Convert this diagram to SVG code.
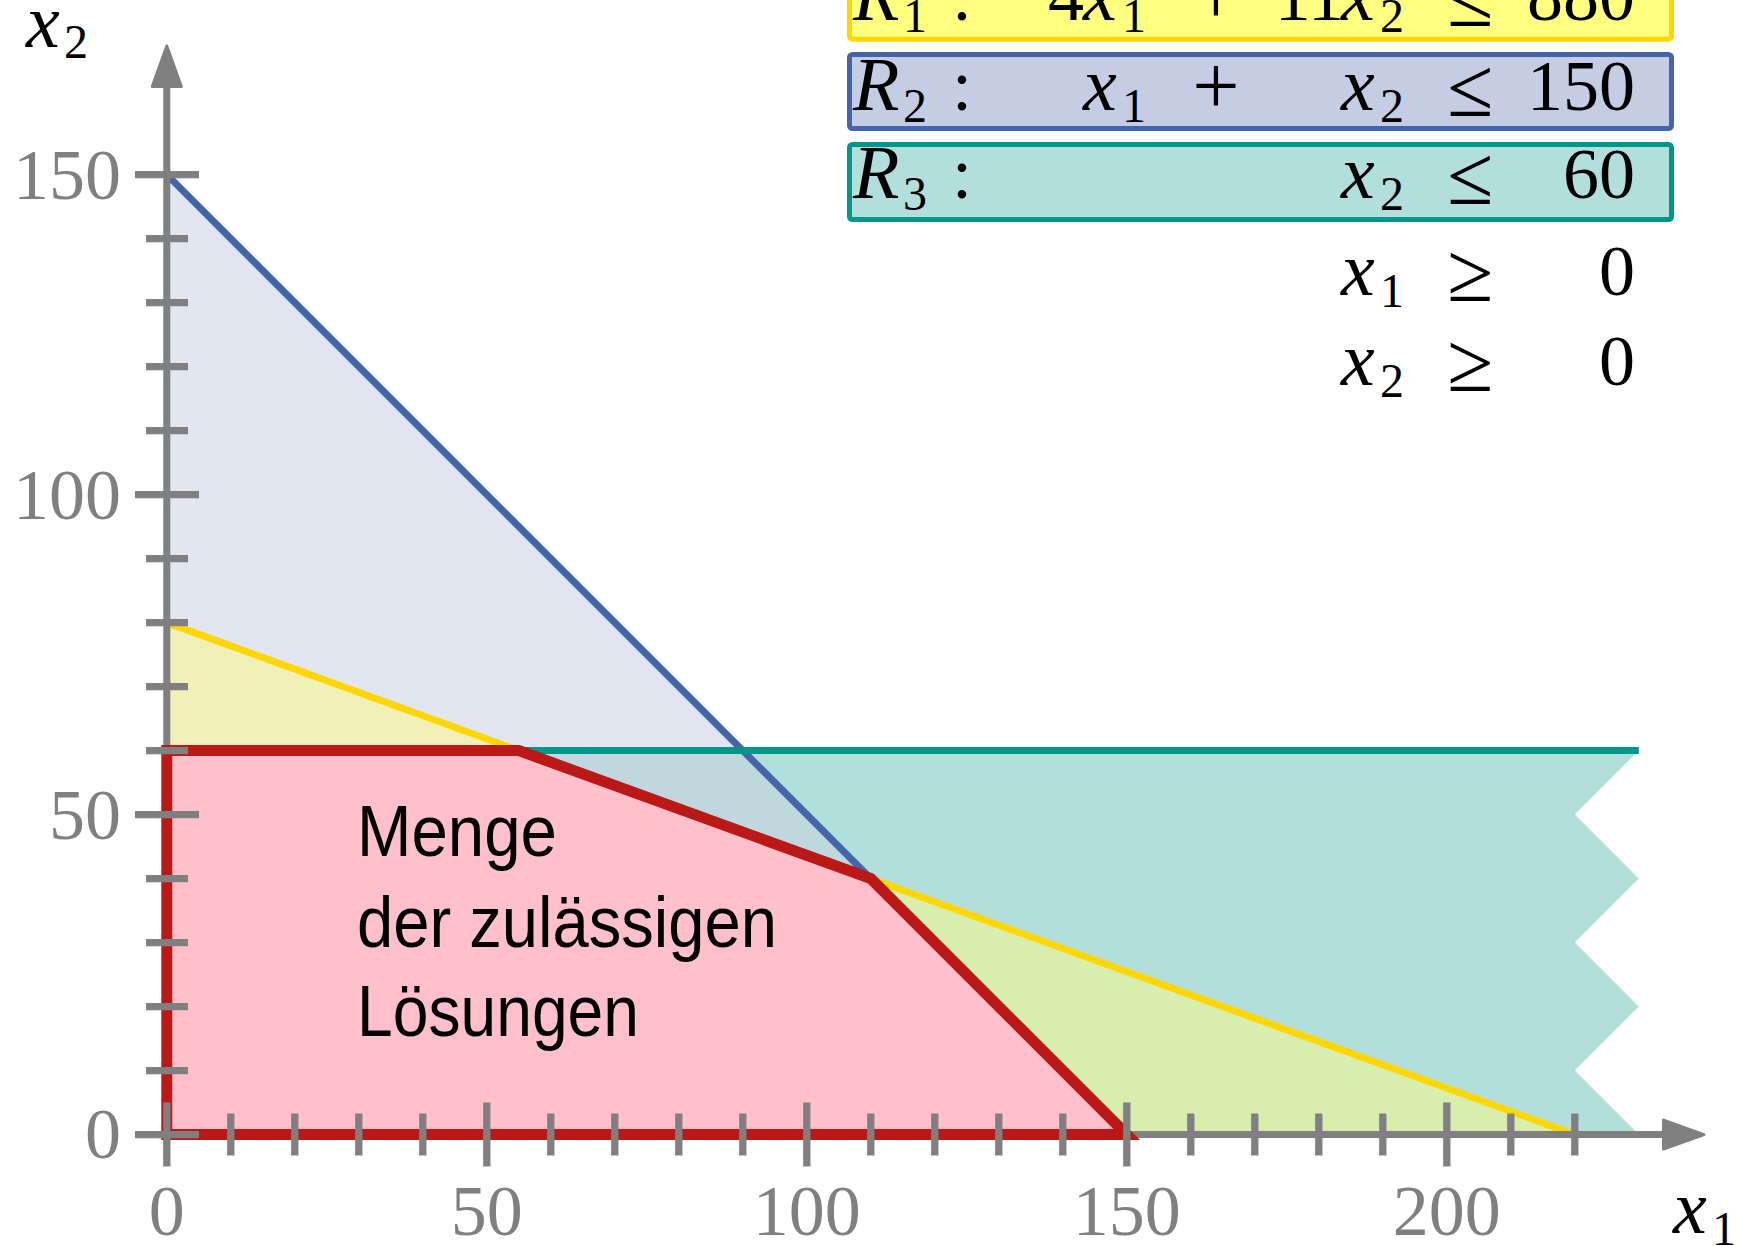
<svg xmlns="http://www.w3.org/2000/svg" width="1744" height="1246" viewBox="0 0 1744 1246">
<style>
.m{font-family:"Liberation Serif","Times New Roman",serif;font-size:72px;fill:#000}
.i{font-style:italic;font-size:76px}
.s{font-size:48px}
.r{font-size:84px}
.g{fill:#808080}
.ax{stroke:#808080;stroke-width:7;fill:none}
.tk{stroke:#808080;stroke-width:7.3;fill:none}
.ah{fill:#808080;stroke:#808080;stroke-width:3;stroke-linejoin:round}
.sans{font-family:"Liberation Sans",Arial,sans-serif;font-size:73px;fill:#000}
</style>
<rect width="1744" height="1246" fill="#fff"/>
<g id="regions">
<path d="M166.8 1134.6 L166.8 174.6 L1126.8 1134.6 Z" fill="#e1e6f1"/>
<path d="M166.8 1134.6 L166.8 622.6 L1574.8 1134.6 Z" fill="#f0f0b8"/>
<path d="M166.8 1134.6 V750.6 H1638.8 L1574.8 814.6 L1638.8 878.6 L1574.8 942.6 L1638.8 1006.6 L1574.8 1070.6 L1638.8 1134.6 Z" fill="#b2dfdb"/>
<path d="M518.8 750.6 L742.8 750.6 L870.8 878.6 Z" fill="#bed8de"/>
<path d="M870.8 878.6 L1126.8 1134.6 L1574.8 1134.6 Z" fill="#d8eeae"/>
<path id="feasible" d="M166.8 1134.6 V750.6 H518.8 L870.8 878.6 L1126.8 1134.6 Z" fill="#ffc0cb"/>
</g>
<g id="constraint-lines" fill="none">
<path d="M166.8 174.6 L1126.8 1134.6" stroke="#4664aa" stroke-width="7"/>
<path d="M166.8 622.6 L1574.8 1134.6" stroke="#ffd700" stroke-width="7"/>
<path d="M166.8 750.6 H1638.8" stroke="#009688" stroke-width="7"/>
</g>
<g id="axes">
<path class="ax" d="M166.8 1134.6 V88 M166.8 1134.6 H1662"/>
</g>
<path id="feasible-outline" d="M166.8 1134.6 V750.6 H518.8 L870.8 878.6 L1126.8 1134.6 Z" fill="none" stroke="#bb1818" stroke-width="11" stroke-linejoin="miter"/>
<g id="ticks">
<path class="tk" d="M135 1134.6 H199 M135 814.6 H199 M135 494.6 H199 M135 174.6 H199"/>
<path class="tk" d="M146 1070.6 H188 M146 1006.6 H188 M146 942.6 H188 M146 878.6 H188 M146 750.6 H188 M146 686.6 H188 M146 622.6 H188 M146 558.6 H188 M146 430.6 H188 M146 366.6 H188 M146 302.6 H188 M146 238.6 H188"/>
<path class="tk" d="M166.8 1102.6 V1166.6 M486.8 1102.6 V1166.6 M806.8 1102.6 V1166.6 M1126.8 1102.6 V1166.6 M1446.8 1102.6 V1166.6"/>
<path class="tk" d="M230.8 1113.6 V1155.6 M294.8 1113.6 V1155.6 M358.8 1113.6 V1155.6 M422.8 1113.6 V1155.6 M550.8 1113.6 V1155.6 M614.8 1113.6 V1155.6 M678.8 1113.6 V1155.6 M742.8 1113.6 V1155.6 M870.8 1113.6 V1155.6 M934.8 1113.6 V1155.6 M998.8 1113.6 V1155.6 M1062.8 1113.6 V1155.6 M1190.8 1113.6 V1155.6 M1254.8 1113.6 V1155.6 M1318.8 1113.6 V1155.6 M1382.8 1113.6 V1155.6 M1510.8 1113.6 V1155.6 M1574.8 1113.6 V1155.6"/>
<polygon class="ah" points="166.8,46 152.3,86.5 181.3,86.5"/>
<polygon class="ah" points="1704,1134.6 1663.5,1120.1 1663.5,1149.1"/>
</g>
<g id="tick-labels" class="m g">
<text x="121" y="199" text-anchor="end">150</text>
<text x="121" y="519" text-anchor="end">100</text>
<text x="121" y="839" text-anchor="end">50</text>
<text x="121" y="1158" text-anchor="end">0</text>
<text x="166.8" y="1235" text-anchor="middle">0</text>
<text x="486.8" y="1235" text-anchor="middle">50</text>
<text x="806.8" y="1235" text-anchor="middle">100</text>
<text x="1126.8" y="1235" text-anchor="middle">150</text>
<text x="1446.8" y="1235" text-anchor="middle">200</text>
</g>
<g id="axis-labels" class="m">
<text class="i" x="26" y="47">x</text><text class="s" x="64" y="58">2</text>
<text class="i" x="1673" y="1233">x</text><text class="s" x="1712" y="1245">1</text>
</g>
<g id="legend-R1">
<rect x="849.5" y="-35.5" width="822" height="74.7" rx="3" fill="#ffff80" stroke="#ffd700" stroke-width="5"/>
<g class="m">
<text class="i" x="853" y="20">R</text><text class="s" x="903" y="32">1</text><text x="952" y="20">:</text>
<text x="1084" y="20" text-anchor="end">4</text><text class="i" x="1083" y="20">x</text><text class="s" x="1122" y="32">1</text>
<text class="r" x="1216" y="24" text-anchor="middle">+</text>
<text x="1344" y="20" text-anchor="end">11</text><text class="i" x="1341" y="20">x</text><text class="s" x="1380" y="32">2</text>
<text class="r" x="1470" y="26" text-anchor="middle">≤</text>
<text x="1635" y="20" text-anchor="end">880</text>
</g>
</g>
<g id="legend-R2">
<rect x="849.5" y="54.5" width="822" height="74" rx="3" fill="#c5cde4" stroke="#4664aa" stroke-width="5"/>
<g class="m">
<text class="i" x="853" y="110">R</text><text class="s" x="903" y="122">2</text><text x="952" y="110">:</text>
<text class="i" x="1083" y="110">x</text><text class="s" x="1122" y="122">1</text>
<text class="r" x="1216" y="114" text-anchor="middle">+</text>
<text class="i" x="1341" y="110">x</text><text class="s" x="1380" y="122">2</text>
<text class="r" x="1470" y="116" text-anchor="middle">≤</text>
<text x="1635" y="110" text-anchor="end">150</text>
</g>
</g>
<g id="legend-R3">
<rect x="849.5" y="144.5" width="822" height="75" rx="3" fill="#b2dfdb" stroke="#009688" stroke-width="5"/>
<g class="m">
<text class="i" x="853" y="198">R</text><text class="s" x="903" y="210">3</text><text x="952" y="198">:</text>
<text class="i" x="1341" y="198">x</text><text class="s" x="1380" y="210">2</text>
<text class="r" x="1470" y="204" text-anchor="middle">≤</text>
<text x="1635" y="198" text-anchor="end">60</text>
</g>
</g>
<g id="nonneg">
<g class="m">
<text class="i" x="1341" y="295">x</text><text class="s" x="1380" y="307">1</text>
<text class="r" x="1470" y="301" text-anchor="middle">≥</text>
<text x="1635" y="295" text-anchor="end">0</text>
<text class="i" x="1341" y="385">x</text><text class="s" x="1380" y="397">2</text>
<text class="r" x="1470" y="391" text-anchor="middle">≥</text>
<text x="1635" y="385" text-anchor="end">0</text>
</g>
</g>
<g id="feasible-label" class="sans">
<text x="357" y="856" textLength="200" lengthAdjust="spacingAndGlyphs">Menge</text>
<text x="357" y="947" textLength="420" lengthAdjust="spacingAndGlyphs">der zulässigen</text>
<text x="357" y="1036" textLength="282" lengthAdjust="spacingAndGlyphs">Lösungen</text>
</g>
</svg>
